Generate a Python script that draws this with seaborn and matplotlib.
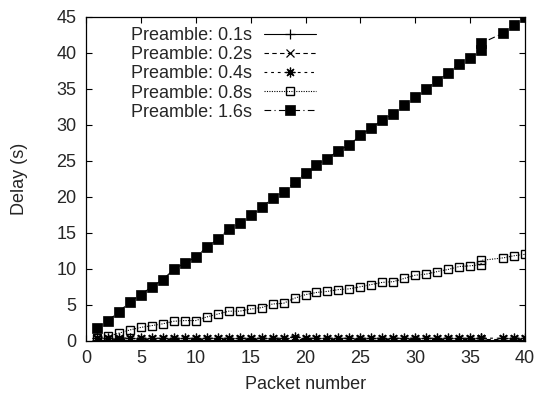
import matplotlib
matplotlib.use("Agg")
import matplotlib.pyplot as plt
import seaborn as sns
import pandas as pd

# Packet index (packet 36 was logged twice, packet 37 is missing)
packets = [1, 2, 3, 4, 5, 6, 7, 8, 9, 10,
           11, 12, 13, 14, 15, 16, 17, 18, 19, 20,
           21, 22, 23, 24, 25, 26, 27, 28, 29, 30,
           31, 32, 33, 34, 35, 36, 36, 38, 39, 40]

delay_01 = [0.10, 0.10, 0.10, 0.10, 0.10, 0.10, 0.10, 0.10, 0.10, 0.10,
            0.10, 0.10, 0.10, 0.10, 0.10, 0.10, 0.10, 0.10, 0.10, 0.10,
            0.10, 0.10, 0.10, 0.10, 0.10, 0.10, 0.10, 0.10, 0.10, 0.10,
            0.10, 0.10, 0.10, 0.10, 0.10, 0.10, 0.10, 0.10, 0.10, 0.10]

delay_02 = [0.20, 0.20, 0.20, 0.20, 0.20, 0.20, 0.20, 0.20, 0.20, 0.20,
            0.20, 0.20, 0.20, 0.20, 0.20, 0.20, 0.20, 0.20, 0.20, 0.20,
            0.20, 0.20, 0.20, 0.20, 0.20, 0.20, 0.20, 0.20, 0.20, 0.20,
            0.20, 0.20, 0.20, 0.20, 0.20, 0.20, 0.20, 0.20, 0.20, 0.20]

delay_04 = [0.35, 0.35, 0.35, 0.40, 0.35, 0.35, 0.35, 0.35, 0.35, 0.35,
            0.35, 0.35, 0.35, 0.35, 0.35, 0.35, 0.35, 0.35, 0.55, 0.35,
            0.35, 0.35, 0.35, 0.35, 0.35, 0.35, 0.35, 0.35, 0.35, 0.35,
            0.35, 0.35, 0.35, 0.35, 0.35, 0.35, 0.35, 0.35, 0.35, 0.35]

delay_08 = [0.40, 0.60, 1.05, 1.50, 1.85, 2.10, 2.35, 2.70, 2.80, 2.80,
            3.30, 3.70, 4.10, 4.10, 4.40, 4.60, 5.10, 5.20, 5.90, 6.40,
            6.70, 6.85, 7.10, 7.20, 7.50, 7.80, 8.10, 8.20, 8.65, 9.10,
            9.25, 9.60, 9.90, 10.30, 10.40, 10.55, 11.15, 11.50, 11.80, 12.00]

delay_16 = [1.7, 2.8, 4.0, 5.4, 6.4, 7.5, 8.5, 9.9, 10.8, 11.6,
            13.0, 14.1, 15.5, 16.3, 17.4, 18.5, 19.8, 20.7, 22.0, 23.3,
            24.4, 25.3, 26.4, 27.2, 28.5, 29.6, 30.6, 31.5, 32.7, 33.8,
            35.0, 36.1, 37.2, 38.4, 39.3, 40.3, 41.3, 42.7, 43.9, 45.0]

labels = ["Preamble: 0.1s", "Preamble: 0.2s", "Preamble: 0.4s",
          "Preamble: 0.8s", "Preamble: 1.6s"]
series = [delay_01, delay_02, delay_04, delay_08, delay_16]

sns.set_theme(style="ticks")
plt.rcParams["font.family"] = ["Liberation Sans", "DejaVu Sans"]
plt.rcParams["font.size"] = 13

fig = plt.figure(figsize=(5.41, 3.96), dpi=100)
ax = fig.add_axes([0.159, 0.1396, 0.9704 - 0.159, 0.958 - 0.1396])

styles = [
    dict(marker="+", markersize=7, markeredgewidth=0.9, linestyle="-",
         mfc="black"),
    dict(marker="x", markersize=6, markeredgewidth=0.9,
         linestyle=(0, (4, 3)), mfc="black"),
    dict(marker=(8, 2, 0), markersize=7, markeredgewidth=0.9,
         linestyle=(0, (2.5, 3.5)), mfc="black"),
    dict(marker="s", markersize=6.3, markeredgewidth=1.0,
         linestyle=(0, (1, 1.2)), mfc="none"),
    dict(marker="s", markersize=6.8, markeredgewidth=0.5,
         linestyle=(0, (6, 3, 1, 3)), mfc="black"),
]

for vals, lab, st in zip(series, labels, styles):
    df = pd.DataFrame({"packet": packets, "delay": vals})
    sns.lineplot(data=df, x="packet", y="delay", estimator=None, sort=False,
                 ax=ax, label=lab, color="black", linewidth=0.8,
                 mec="black", **st)

ax.set_xlim(0, 40)
ax.set_ylim(0, 45)
ax.set_xticks(range(0, 41, 5))
ax.set_yticks(range(0, 46, 5))
ax.set_xlabel("Packet number", fontsize=13, labelpad=6)
ax.set_ylabel("Delay (s)", fontsize=13, labelpad=20)
ax.tick_params(direction="in", top=True, right=True, length=4.5,
               width=0.8, labelsize=13, pad=7, color="black")
for sp in ax.spines.values():
    sp.set_visible(True)
    sp.set_linewidth(0.9)
    sp.set_color("black")

leg = ax.legend(loc="upper left", bbox_to_anchor=(0.086, 0.99),
                frameon=False, markerfirst=False, numpoints=1,
                handlelength=2.9, handletextpad=0.66, labelspacing=0.12,
                fontsize=13, borderaxespad=0.0)

fig.savefig("out.png", dpi=100)
